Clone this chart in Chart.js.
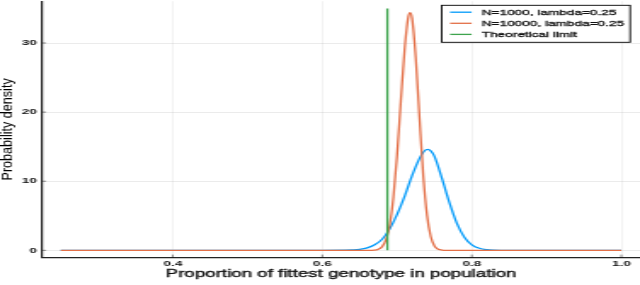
<!DOCTYPE html>
<html><head><meta charset="utf-8">
<script src="https://cdn.jsdelivr.net/npm/chart.js@4/dist/chart.umd.min.js"></script>
<style>
html,body{margin:0;padding:0;background:#fff;overflow:hidden;width:640px;height:285px}
#c{display:block;transform:scaleX(1.70213);transform-origin:0 0}
</style></head><body>
<canvas id="c" width="376" height="285"></canvas>
<script>
// ---- data ----
const seriesLabels = ["N=1000, lambda=0.25", "N=10000, lambda=0.25", "Theoretical limit"];
const blueX = [0.25, 0.60, 0.63, 0.64, 0.65, 0.66, 0.67, 0.68, 0.69, 0.70, 0.71, 0.72, 0.73, 0.735, 0.7407, 0.745, 0.75, 0.76, 0.77, 0.78, 0.79, 0.80, 0.81, 0.82, 0.83, 0.85, 1.0];
const blueY = [0, 0, 0.02, 0.05, 0.13, 0.35, 0.8, 1.6, 3.1, 5.2, 7.8, 10.8, 13.3, 14.2, 14.6, 14.4, 13.6, 10.4, 6.9, 3.9, 1.9, 0.8, 0.3, 0.1, 0.03, 0, 0];
const redX = [0.25, 0.66, 0.67, 0.675, 0.68, 0.685, 0.69, 0.695, 0.70, 0.705, 0.71, 0.715, 0.7175, 0.72, 0.725, 0.73, 0.735, 0.74, 0.745, 0.75, 0.755, 0.76, 0.765, 1.0];
const redY = [0, 0, 0.04, 0.17, 0.54, 1.5, 3.6, 7.6, 13.8, 21.6, 29.0, 33.8, 34.4, 33.6, 27.8, 19.1, 10.8, 5.1, 2.0, 0.64, 0.17, 0.04, 0, 0];
const greenX = [0.687, 0.687];
const greenY = [0, 35];
const xTicks = [0.4, 0.6, 0.8, 1.0];
const xTickLabels = ["0.4", "0.6", "0.8", "1.0"];
const yTicks = [0, 10, 20, 30];
const yTickLabels = ["0", "10", "20", "30"];
const xTitle = "Proportion of fittest genotype in population";
const yTitle = "Probability density";

// ---- styling ----
const STRETCH = 640 / 376;
const FONT = '"Liberation Sans", Arial, sans-serif';
const colors = ["#009AFA", "#E36F47", "#3EA44E"];
const pts = (xs, ys) => xs.map((x, i) => ({x: x, y: ys[i]}));

function heavyText(ctx, txt, x, y, sw) {
  ctx.fillText(txt, x, y);
  ctx.lineWidth = sw;
  ctx.strokeStyle = ctx.fillStyle;
  ctx.strokeText(txt, x, y);
}

const deco = {
  id: 'deco',
  afterDraw(chart) {
    const ctx = chart.ctx, ca = chart.chartArea, xs = chart.scales.x, ys = chart.scales.y;
    ctx.save();
    // inward tick marks
    ctx.strokeStyle = 'rgba(0,0,0,0.55)';
    ctx.lineWidth = 0.8;
    xTicks.forEach(v => {
      const px = xs.getPixelForValue(v);
      ctx.beginPath(); ctx.moveTo(px, ca.bottom); ctx.lineTo(px, ca.bottom - 3); ctx.stroke();
    });
    yTicks.forEach(v => {
      const py = ys.getPixelForValue(v);
      ctx.beginPath(); ctx.moveTo(ca.left, py); ctx.lineTo(ca.left + 2.4, py); ctx.stroke();
    });
    // x title
    ctx.fillStyle = '#111';
    ctx.font = '11px ' + FONT;
    ctx.textAlign = 'center';
    ctx.textBaseline = 'alphabetic';
    heavyText(ctx, xTitle, (ca.left + ca.right) / 2, 276.7, 0.35);
    // y title
    ctx.save();
    ctx.translate(5.0, (ca.top + ca.bottom) / 2);
    ctx.scale(1.14 / STRETCH, 1);
    ctx.rotate(-Math.PI / 2);
    ctx.fillStyle = '#000';
    ctx.font = '12.6px ' + FONT;
    ctx.textAlign = 'center';
    ctx.textBaseline = 'middle';
    ctx.fillText(yTitle, 0, 0);
    ctx.restore();
    // legend
    const L = 259.5, T = 5.3, R = 370.2, B = 42.3;
    ctx.fillStyle = '#fff';
    ctx.fillRect(L, T, R - L, B - T);
    ctx.strokeStyle = '#000';
    ctx.lineWidth = 0.9;
    ctx.strokeRect(L, T, R - L, B - T);
    const rows = [12.2, 23.3, 34.4];
    chart.data.datasets.forEach((ds, i) => {
      const y = rows[i];
      ctx.strokeStyle = ds.borderColor;
      ctx.lineWidth = 1.3;
      ctx.beginPath(); ctx.moveTo(264.4, y); ctx.lineTo(277.1, y); ctx.stroke();
      ctx.fillStyle = '#111';
      ctx.font = '8px ' + FONT;
      ctx.textAlign = 'left';
      ctx.textBaseline = 'middle';
      heavyText(ctx, ds.label, 283, y + 0.3, 0.3);
    });
    ctx.restore();
  }
};

new Chart(document.getElementById('c'), {
  type: 'line',
  data: {
    datasets: [
      {label: seriesLabels[0], data: pts(blueX, blueY), borderColor: colors[0], order: 2},
      {label: seriesLabels[1], data: pts(redX, redY), borderColor: colors[1], order: 1},
      {label: seriesLabels[2], data: pts(greenX, greenY), borderColor: colors[2], order: 0}
    ].map(d => Object.assign(d, {borderWidth: 1.3, pointRadius: 0, fill: false, cubicInterpolationMode: 'monotone'}))
  },
  options: {
    responsive: false,
    animation: false,
    devicePixelRatio: 1,
    layout: {padding: {top: 1.2, right: 0, left: 0, bottom: 0}},
    plugins: {legend: {display: false}, tooltip: {enabled: false}},
    scales: {
      x: {
        type: 'linear', min: 0.225, max: 1.025,
        afterBuildTicks: s => { s.ticks = xTicks.map(v => ({value: v})); },
        afterFit: s => { s.height = 27.4; s.paddingLeft = 0; s.paddingRight = 0; },
        ticks: {
          callback: (v) => xTickLabels[xTicks.indexOf(v)] ?? '',
          font: {family: FONT, size: 8, weight: 'bold'}, color: '#111', padding: 1.8,
          maxRotation: 0, autoSkip: false
        },
        grid: {color: 'rgba(0,0,0,0.09)', lineWidth: 0.6, drawTicks: false},
        border: {color: '#222', width: 1.3}
      },
      y: {
        type: 'linear', min: -1.05, max: 36.05,
        afterBuildTicks: s => { s.ticks = yTicks.map(v => ({value: v})); },
        afterFit: s => { s.width = 24.7; s.paddingTop = 0; s.paddingBottom = 0; },
        ticks: {
          callback: (v) => yTickLabels[yTicks.indexOf(v)] ?? '',
          font: {family: FONT, size: 8, weight: 'bold'}, color: '#111', padding: 3
        },
        grid: {color: 'rgba(0,0,0,0.08)', lineWidth: 1, drawTicks: false},
        border: {color: '#222', width: 1.2}
      }
    }
  },
  plugins: [deco]
});
</script>
</body></html>
